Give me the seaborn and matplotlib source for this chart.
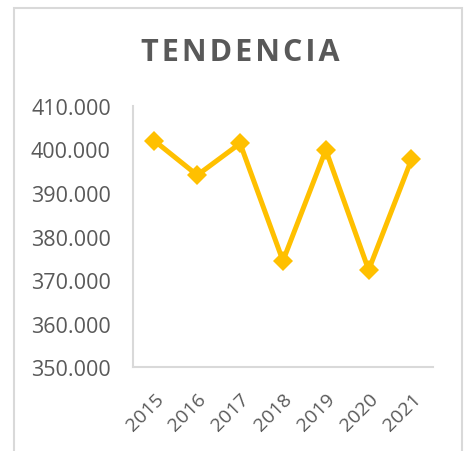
import matplotlib
matplotlib.use("Agg")
import matplotlib.pyplot as plt
import matplotlib.ticker as mticker
from matplotlib.patches import Rectangle
import seaborn as sns
import pandas as pd

# data
years = ["2015", "2016", "2017", "2018", "2019", "2020", "2021"]
values = [402000, 394100, 401400, 374400, 399900, 372300, 397700]

df = pd.DataFrame({"year": years, "value": values})

sns.set_theme(style="white")
plt.rcParams["font.family"] = ["Open Sans", "DejaVu Sans"]

text_color = "#595959"
grid_color = "#D9D9D9"

fig = plt.figure(figsize=(4.66, 4.52), dpi=100)
ax = fig.add_axes([0.2854, 0.1858, 0.929 - 0.2854, 0.7633 - 0.1858])

sns.lineplot(data=df, x="year", y="value", ax=ax, color="#FFC000",
             linewidth=3.6, marker="D", markersize=10.5, markeredgewidth=0,
             sort=False)

ax.set_ylim(350000, 410000)
ax.set_xlim(-0.5, len(years) - 0.5)
ax.yaxis.set_major_locator(mticker.MultipleLocator(10000))
ax.yaxis.set_major_formatter(
    mticker.FuncFormatter(lambda v, p: f"{v:,.0f}".replace(",", ".")))

ax.set_xlabel("")
ax.set_ylabel("")
for side in ["top", "right"]:
    ax.spines[side].set_visible(False)
for side in ["left", "bottom"]:
    ax.spines[side].set_color(grid_color)
    ax.spines[side].set_linewidth(1.5)

ax.tick_params(axis="y", length=0, pad=16, labelsize=15.5, labelcolor=text_color)
ax.tick_params(axis="x", length=0, pad=16, labelsize=14, labelcolor=text_color)
for lbl in ax.get_xticklabels():
    lbl.set_rotation(45)
    lbl.set_ha("right")
    lbl.set_rotation_mode("anchor")

fig.text(0.515, 0.882, "\u200a".join("TENDENCIA"), ha="center", va="center",
         fontsize=22, fontweight="bold", color=text_color)

# chart area border
fig.patches.append(Rectangle((14 / 466, -0.05), 448 / 466, 1.05 - 9 / 452,
                             transform=fig.transFigure, fill=False,
                             edgecolor=grid_color, linewidth=1.5))

fig.savefig("out.png", dpi=100)
